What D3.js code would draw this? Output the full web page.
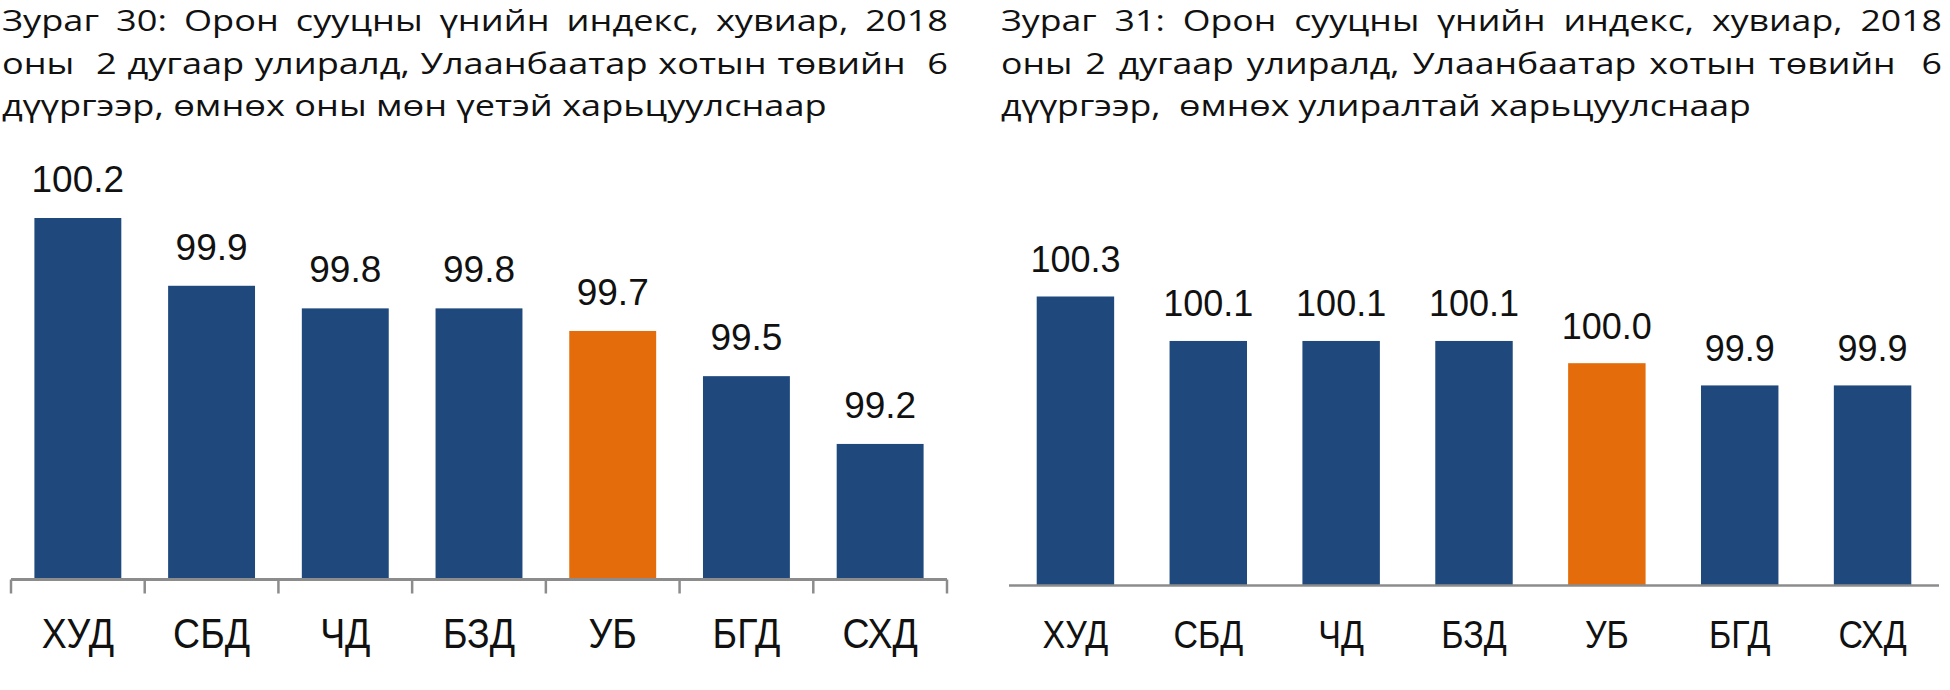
<!DOCTYPE html>
<html>
<head>
<meta charset="utf-8">
<script src="https://cdn.jsdelivr.net/npm/d3@7"></script>
<style>
  body { margin: 0; background: #ffffff; }
  svg { display: block; }
</style>
</head>
<body>
<svg id="chart" width="1950" height="690"></svg>
<script>
// ---------- DATA ----------
const categories = ["ХУД", "СБД", "ЧД", "БЗД", "УБ", "БГД", "СХД"];
const valuesYoY = [100.2, 99.9, 99.8, 99.8, 99.7, 99.5, 99.2];   // Зураг 30
const valuesQoQ = [100.3, 100.1, 100.1, 100.1, 100.0, 99.9, 99.9]; // Зураг 31
const highlightCategory = "УБ";
const yDomainYoY = [98.6, 100.2];
const yDomainQoQ = [99.0, 100.3];
const title30 = [
  "Зураг 30: Орон сууцны үнийн индекс, хувиар, 2018",
  "оны  2 дугаар улиралд, Улаанбаатар хотын төвийн  6",
  "дүүргээр, өмнөх оны мөн үетэй харьцуулснаар"
];
const title31 = [
  "Зураг 31: Орон сууцны үнийн индекс, хувиар, 2018",
  "оны 2 дугаар улиралд, Улаанбаатар хотын төвийн  6",
  "дүүргээр,  өмнөх улиралтай харьцуулснаар"
];

// ---------- STYLE ----------
const NAVY = "#1F497D";
const ORANGE = "#E46C0A";
const AXIS = "#8C8C8C";
const titleBaselines = [31, 73.5, 116];
const titleFont = "'Open Sans', 'Noto Sans', sans-serif";
const titleSize = 29.5;
const labelFont = "'Liberation Sans', Arial, sans-serif";

const svg = d3.select("#chart");

// Title: justified lines, last line natural
function drawTitle(lines, x, right, lastLineWidth) {
  const g = svg.append("g");
  const probe = g.append("text")
    .style("font-family", titleFont).style("font-size", titleSize + "px")
    .style("font-weight", 500)
    .style("white-space", "pre").text(lines[lines.length - 1]);
  const sx = lastLineWidth / probe.node().getComputedTextLength();
  probe.remove();
  lines.forEach((line, i) => {
    const t = g.append("text")
      .attr("transform", `translate(${x},${titleBaselines[i]}) scale(${sx},1)`)
      .style("font-family", titleFont)
      .style("font-size", titleSize + "px")
      .style("font-weight", 500)
      .style("white-space", "pre")
      .attr("fill", "#111")
      .text(line);
    if (i < lines.length - 1) {
      const w = t.node().getComputedTextLength();
      const spaces = (line.match(/ /g) || []).length;
      const target = (right - x) / sx;
      t.style("word-spacing", ((target - w) / spaces) + "px");
    }
  });
}

function drawPanel(cfg) {
  const g = svg.append("g");
  const x = d3.scaleBand()
    .domain(categories)
    .range([cfg.x0, cfg.x1])
    .paddingInner(cfg.padding)
    .paddingOuter(cfg.padding / 2);
  const y = d3.scaleLinear()
    .domain(cfg.domain)
    .range([cfg.yBase, cfg.yTop]);

  const data = categories.map((c, i) => ({ cat: c, v: cfg.values[i] }));

  g.selectAll("rect.bar").data(data).enter().append("rect")
    .attr("class", "bar")
    .attr("x", d => x(d.cat))
    .attr("width", x.bandwidth())
    .attr("y", d => y(d.v))
    .attr("height", d => y(cfg.domain[0]) - y(d.v))
    .attr("fill", d => d.cat === highlightCategory ? ORANGE : NAVY);

  g.selectAll("text.val").data(data).enter().append("text")
    .attr("class", "val")
    .attr("x", d => x(d.cat) + x.bandwidth() / 2)
    .attr("y", d => y(d.v) - cfg.labelGap)
    .attr("text-anchor", "middle")
    .style("font-family", labelFont)
    .style("font-size", cfg.valSize + "px")
    .attr("fill", "#111")
    .text(d => d.v.toFixed(1));

  const axis = d3.axisBottom(x).tickSize(0).tickPadding(0);
  const ag = g.append("g").attr("transform", `translate(0,${cfg.yBase})`).call(axis);
  ag.select(".domain").remove();
  ag.selectAll(".tick text")
    .attr("y", cfg.catBaseline - cfg.yBase)
    .attr("dy", null)
    .attr("transform", `scale(${cfg.catScaleX},1)`)
    .style("font-family", labelFont)
    .style("font-size", cfg.catSize + "px")
    .attr("fill", "#111");

  g.append("line")
    .attr("x1", cfg.x0).attr("x2", cfg.x1)
    .attr("y1", cfg.yBase).attr("y2", cfg.yBase)
    .attr("stroke", AXIS).attr("stroke-width", cfg.axisWidth);

  if (cfg.ticks) {
    const bounds = d3.range(categories.length + 1).map(i => x.range()[0] + i * x.step());
    g.selectAll("line.tk").data(bounds).enter().append("line")
      .attr("class", "tk")
      .attr("x1", d => d).attr("x2", d => d)
      .attr("y1", cfg.yBase).attr("y2", cfg.yBase + 14)
      .attr("stroke", AXIS).attr("stroke-width", 2.5);
  }
}

drawTitle(title30, 2, 948, 825);
drawTitle(title31, 1001, 1942, 750);

drawPanel({
  values: valuesYoY, domain: yDomainYoY,
  x0: 11, x1: 947, padding: 0.35,
  yBase: 579.5, yTop: 218,
  labelGap: 26, valSize: 37,
  catSize: 43, catScaleX: 0.87, catBaseline: 648,
  axisWidth: 3, ticks: true
});

drawPanel({
  values: valuesQoQ, domain: yDomainQoQ,
  x0: 1009, x1: 1939, padding: 0.417,
  yBase: 585.5, yTop: 296.5,
  labelGap: 24.5, valSize: 36,
  catSize: 39, catScaleX: 0.87, catBaseline: 648,
  axisWidth: 2.5, ticks: false
});
</script>
</body>
</html>
